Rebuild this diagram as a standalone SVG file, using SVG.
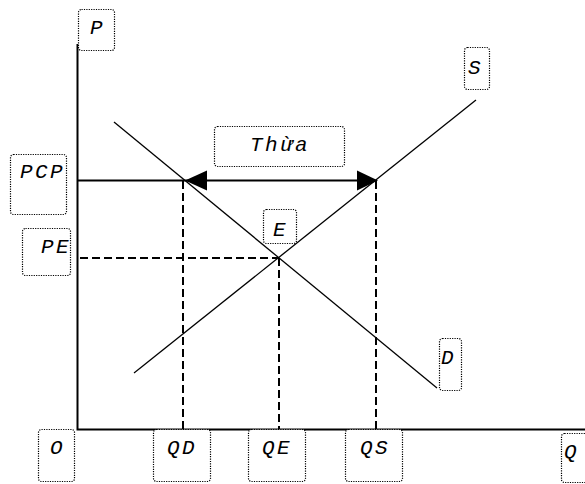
<svg xmlns="http://www.w3.org/2000/svg" width="585" height="484" viewBox="0 0 585 484">
<style>
.bx{fill:#fff;stroke:#000;stroke-width:1.2;stroke-dasharray:1.2 1.2}
.t{font-family:"Liberation Mono","Courier New",monospace;font-style:italic;font-size:21px;letter-spacing:2.4px;fill:#000}
.ax{stroke:#000;stroke-width:2;fill:none}
.ln{stroke:#000;stroke-width:1.3;fill:none}
.ds{stroke:#000;stroke-width:2;stroke-dasharray:8 4;fill:none}
</style>
<rect width="585" height="484" fill="#fff"/>
<g id="connectors">
<path class="ax" d="M77.5 44V429.5H585"/>
<path class="ln" d="M114 122L437 388"/>
<path class="ln" d="M134 373L476 100"/>
<path class="ds" d="M80 258H279"/>
<path class="ds" d="M183 181V429"/>
<path class="ds" d="M279 258V429"/>
<path class="ds" d="M376 181V429"/>
<path class="ax" d="M77.5 180.5H360"/>
<polygon points="185,180.5 207,170.5 207,190.5" fill="#000"/>
<polygon points="378,180.5 357,170.5 357,190.5" fill="#000"/>
</g>
<g id="node-P"><rect class="bx" x="78.5" y="9.5" width="36" height="41" rx="3"/><text class="t" x="90" y="34">P</text></g>
<g id="node-PCP"><rect class="bx" x="10.5" y="154.5" width="56" height="60" rx="3"/><text class="t" x="20" y="178">PCP</text></g>
<g id="node-PE"><rect class="bx" x="22.5" y="228.5" width="48" height="47" rx="3"/><text class="t" x="41" y="253">PE</text></g>
<g id="node-Thua"><rect class="bx" x="214.5" y="126.5" width="130" height="40" rx="3"/><text class="t" x="250" y="151">Thừa</text></g>
<g id="node-E"><rect class="bx" x="263.5" y="209.5" width="33" height="34" rx="3"/><text class="t" x="273" y="236">E</text></g>
<g id="node-S"><rect class="bx" x="464.5" y="47.5" width="25" height="42" rx="3"/><text class="t" x="468" y="74">S</text></g>
<g id="node-D"><rect class="bx" x="439.5" y="338.5" width="22" height="52" rx="3"/><text class="t" x="441" y="364">D</text></g>
<g id="node-O"><rect class="bx" x="38.5" y="429.5" width="36" height="52" rx="3"/><text class="t" x="50" y="454">O</text></g>
<g id="node-QD"><rect class="bx" x="153.5" y="429.5" width="57" height="52" rx="3"/><text class="t" x="167" y="454">QD</text></g>
<g id="node-QE"><rect class="bx" x="248.5" y="429.5" width="57" height="52" rx="3"/><text class="t" x="262" y="454">QE</text></g>
<g id="node-QS"><rect class="bx" x="345.5" y="429.5" width="57" height="52" rx="3"/><text class="t" x="360" y="454">QS</text></g>
<g id="node-Q"><rect class="bx" x="561.5" y="433.5" width="30" height="49" rx="3"/><text class="t" x="564" y="458">Q</text></g>
</svg>
